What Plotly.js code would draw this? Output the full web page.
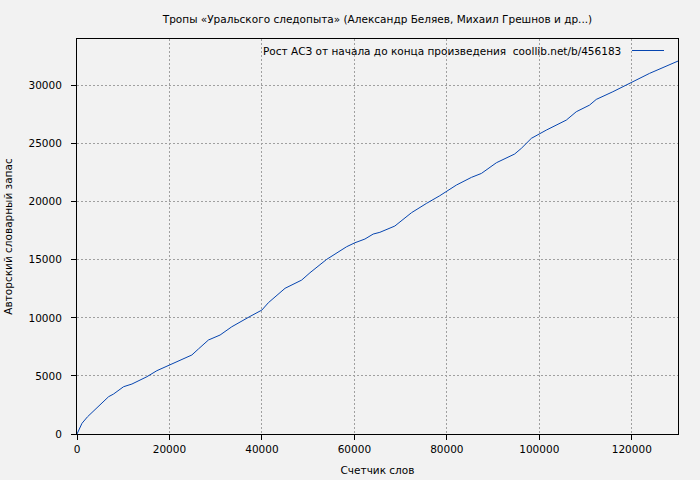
<!DOCTYPE html>
<html>
<head>
<meta charset="utf-8">
<script src="https://cdn.plot.ly/plotly-3.0.1.min.js"></script>
<style>html,body{margin:0;padding:0;background:#f2f2f2;}</style>
</head>
<body>
<div id="chart" style="width:700px;height:480px;"></div>
<script>
const chartTitle = "Тропы «Уральского следопыта» (Александр Беляев, Михаил Грешнов и др...)";
const xTitle = "Счетчик слов";
const yTitle = "Авторский словарный запас";
const seriesName = "Рост АСЗ от начала до конца произведения  coollib.net/b/456183";

const wordCount = [0, 1080, 2290, 3950, 6830, 7900, 10070, 11880, 15120, 17280, 20000, 23030, 24840, 26270, 28430, 30950, 33480, 37430, 40000, 41390, 43200, 45000, 48600, 50390, 54000, 58320, 60110, 62270, 64070, 65510, 68750, 70540, 72360, 75600, 78470, 82080, 85320, 87480, 90720, 94670, 96120, 98280, 101520, 105840, 108000, 110870, 112320, 115910, 119520, 123840, 130000];
const vocabulary = [0, 920, 1490, 2125, 3210, 3440, 4070, 4300, 4930, 5450, 5940, 6510, 6800, 7320, 8090, 8520, 9230, 10120, 10670, 11300, 11900, 12540, 13250, 13880, 15030, 16120, 16460, 16780, 17210, 17360, 17900, 18480, 19050, 19850, 20510, 21430, 22090, 22430, 23350, 24100, 24590, 25450, 26160, 27020, 27740, 28310, 28800, 29460, 30180, 31040, 32100];

const xTicks = [0, 20000, 40000, 60000, 80000, 100000, 120000];
const yTicks = [0, 5000, 10000, 15000, 20000, 25000, 30000];

const lineColor = "#0645b0";
const fontFam = "DejaVu Sans, sans-serif";
const fs = 10.5;

const trace = {
  x: wordCount, y: vocabulary, type: "scatter", mode: "lines",
  name: seriesName, line: {color: lineColor, width: 1}, showlegend: false
};

const axisCommon = {
  showline: true, linecolor: "#000", linewidth: 1, mirror: true,
  ticks: "outside", ticklen: 5, tickcolor: "#000", tickwidth: 1,
  showgrid: true, gridcolor: "#a0a0a0", griddash: "2px,2px", gridwidth: 1,
  zeroline: false, tickfont: {family: fontFam, size: fs, color: "#000"},
  automargin: false
};

const layout = {
  width: 700, height: 480,
  paper_bgcolor: "#f2f2f2", plot_bgcolor: "#f2f2f2",
  margin: {l: 77, r: 22, t: 39, b: 46},
  font: {family: fontFam, size: fs, color: "#000"},
  title: {text: chartTitle, font: {family: fontFam, size: fs, color: "#000"},
          x: 0.5, xref: "paper", y: 1 - 19/480, yref: "container", yanchor: "middle"},
  xaxis: Object.assign({}, axisCommon, {
    range: [0, 130000], tickvals: xTicks, ticktext: xTicks.map(String),
    title: {text: xTitle, font: {family: fontFam, size: fs, color: "#000"}, standoff: 13}
  }),
  yaxis: Object.assign({}, axisCommon, {
    range: [0, 34000], tickvals: yTicks, ticktext: yTicks.map(String),
    ticklabelstandoff: 7,
    title: {text: yTitle, font: {family: fontFam, size: fs, color: "#000"}, standoff: 13}
  }),
  annotations: [{
    text: seriesName, xref: "paper", yref: "paper", x: (623 - 77) / 601, y: 1 - (50.5 - 39) / 395,
    xanchor: "right", yanchor: "middle", showarrow: false,
    font: {family: fontFam, size: fs, color: "#000"}
  }],
  shapes: [{
    type: "line", xref: "paper", yref: "paper",
    x0: (632 - 77) / 601, x1: (664 - 77) / 601,
    y0: 1 - (50.5 - 39) / 395, y1: 1 - (50.5 - 39) / 395,
    line: {color: lineColor, width: 1}
  }]
};

Plotly.newPlot("chart", [trace], layout, {displayModeBar: false, staticPlot: true});
</script>
</body>
</html>
